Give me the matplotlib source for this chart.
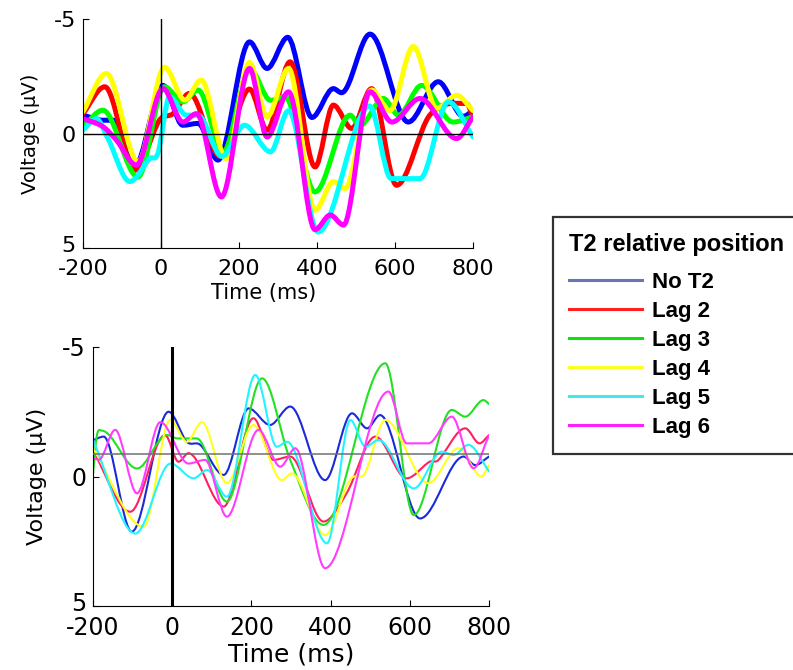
import matplotlib
matplotlib.use('Agg')
import matplotlib.pyplot as plt
import matplotlib.transforms as mtransforms
from matplotlib.path import Path
from matplotlib.patches import PathPatch
from matplotlib.lines import Line2D
import numpy as np

plt.rcParams['font.family'] = ['DejaVu Sans']
plt.rcParams['axes.unicode_minus'] = False

labels = ['No T2', 'Lag 2', 'Lag 3', 'Lag 4', 'Lag 5', 'Lag 6']
xticks = [-200, 0, 200, 400, 600, 800]
yticks = [-5, 0, 5]

# ---- upper panel (ms / uV) ----
top_blue_t = [-200, -149, -123, -68, 5, 56, 95, 146, 227, 272, 325, 387, 442, 463, 536, 634, 711, 775, 800]
top_blue_v = [-0.8, -0.58, -0.58, 1.45, -2.1, -0.36, -0.44, 1.16, -4.0, -2.84, -4.2, -0.7, -1.96, -1.78, -4.34, -0.5, -2.26, -0.75, -1.0]

top_red_t = [-200, -144, -67, -4, 31, 73, 152, 227, 272, 331, 395, 442, 489, 540, 604, 690, 783, 800]
top_red_v = [-0.87, -2.04, 1.6, -0.58, -0.87, -1.75, 1.0, -1.94, -0.15, -3.13, 1.46, -1.24, -0.22, -1.96, 2.26, -0.82, -1.31, -0.73]

top_green_t = [-200, -149, -59, 9, 56, 95, 160, 227, 281, 318, 395, 485, 510, 570, 609, 668, 749, 800]
top_green_v = [-0.3, -1.02, 1.9, -2.04, -1.38, -1.9, 0.8, -2.84, -1.45, -1.6, 2.55, -0.8, -0.35, -1.53, -0.8, -2.1, -0.5, -0.73]

top_yellow_t = [-200, -140, -59, 9, 61, 103, 167, 227, 272, 327, 395, 442, 472, 540, 587, 647, 707, 758, 800]
top_yellow_v = [-0.95, -2.62, 1.24, -2.9, -1.46, -2.33, 1.1, -3.1, -0.73, -2.84, 3.35, 2.1, 2.4, -1.9, -1.0, -3.8, -1.1, -1.67, -1.0]

top_cyan_t = [-200, -166, -136, -80, -29, -8, 22, 65, 95, 156, 214, 281, 327, 403, 535, 590, 664, 737, 800]
top_cyan_v = [-0.15, -0.65, 0.22, 2.1, 1.09, 0.87, -1.6, -0.8, -0.8, 1.0, -0.36, 0.8, -1.0, 4.3, -1.2, 1.97, 1.97, -1.38, 0.15]

top_magenta_t = [-200, -149, -114, -63, 5, 56, 91, 155, 227, 272, 327, 395, 434, 468, 536, 592, 664, 758, 800]
top_magenta_v = [-0.65, -0.3, 0.3, 1.38, -1.96, -0.5, -0.87, 2.77, -2.84, 0.15, -1.82, 4.2, 3.56, 4.0, -1.82, -0.5, -1.53, 0.22, -0.73]

# ---- lower panel ----
bot_blue_t = [-200, -173, -102, -9, 37, 71, 130, 193, 247, 298, 386, 454, 492, 525, 626, 736, 765, 800]
bot_blue_v = [-1.4, -1.54, 2.13, -2.5, -1.34, -1.22, -0.06, -2.63, -1.99, -2.7, 0.14, -2.44, -1.86, -2.37, 1.62, -0.77, -0.44, -0.77]

bot_red_t = [-200, -106, -18, 16, 41, 130, 205, 256, 298, 382, 440, 513, 592, 650, 671, 740, 776, 800]
bot_red_v = [-1.0, 1.36, -1.6, -0.57, -0.9, 1.16, -2.25, -0.64, -0.77, 1.74, 0.66, -1.54, 0.07, -0.57, -0.62, -1.86, -1.28, -1.6]

bot_green_t = [-200, -190, -178, -89, -13, 13, 62, 138, 227, 298, 382, 538, 610, 706, 740, 786, 800]
bot_green_v = [-0.1, -1.6, -1.77, -0.31, -1.6, -1.47, -1.47, 0.97, -3.79, -0.64, 1.87, -4.37, 1.49, -2.57, -2.31, -2.95, -2.8]

bot_yellow_t = [-200, -72, -5, 37, 75, 138, 205, 277, 302, 386, 460, 478, 538, 647, 723, 781, 800]
bot_yellow_v = [-1.09, 1.94, -2.18, -1.34, -2.1, 0.26, -1.99, 0.14, -0.12, 2.26, 0.0, 0.0, -2.18, 0.26, -1.09, 0.0, -0.44]

bot_cyan_t = [-200, -93, -4, 54, 88, 138, 210, 264, 290, 391, 450, 488, 521, 610, 681, 711, 748, 800]
bot_cyan_v = [-1.41, 2.2, -0.5, 0.07, -0.25, 0.78, -3.92, -1.15, -1.34, 2.58, -2.18, -1.15, -1.41, 0.46, -0.96, -0.83, -1.22, -0.2]

bot_magenta_t = [-200, -185, -144, -89, -30, 41, 83, 138, 218, 273, 311, 386, 546, 592, 647, 706, 761, 800]
bot_magenta_v = [-0.7, -0.65, -1.8, 0.65, -2.1, -0.5, -0.64, 1.55, -1.8, -0.38, -1.09, 3.54, -3.28, -1.28, -1.28, -2.31, -0.32, -1.6]

top_colors = ['#0000ff', '#ff0000', '#00ff00', '#ffff00', '#00ffff', '#ff00ff']
bot_colors = ['#1a2ad8', '#ff2060', '#22e022', '#ffff22', '#22f4ff', '#ff3cff']
leg_colors = ['#6a74b8', '#ff2020', '#10e010', '#ffff20', '#40e8f0', '#ff20ff']


def smooth_path(t, v):
    # cubic Bezier through the read points, flat at local peaks
    t = np.asarray(t, float)
    v = np.asarray(v, float)
    n = len(t)
    m = np.zeros(n)
    for i in range(n):
        if i == 0:
            m[i] = (v[1] - v[0]) / (t[1] - t[0])
        elif i == n - 1:
            m[i] = (v[-1] - v[-2]) / (t[-1] - t[-2])
        else:
            d0 = (v[i] - v[i-1]) / (t[i] - t[i-1])
            d1 = (v[i+1] - v[i]) / (t[i+1] - t[i])
            if d0 * d1 <= 0:
                m[i] = 0
            else:
                m[i] = (v[i+1] - v[i-1]) / (t[i+1] - t[i-1])
    verts = [(t[0], v[0])]
    codes = [Path.MOVETO]
    for i in range(n - 1):
        h = t[i+1] - t[i]
        verts += [(t[i] + h/3, v[i] + m[i]*h/3),
                  (t[i+1] - h/3, v[i+1] - m[i+1]*h/3),
                  (t[i+1], v[i+1])]
        codes += [Path.CURVE4] * 3
    return Path(verts, codes)


def style_axes(ax, tick_size, xpad):
    ax.set_xlim(-200, 800)
    ax.set_ylim(5, -5)
    ax.set_xticks(xticks)
    ax.set_yticks(yticks)
    ax.spines['top'].set_visible(False)
    ax.spines['right'].set_visible(False)
    ax.tick_params(direction='in', length=4, labelsize=tick_size, pad=5)
    ax.tick_params(axis='x', pad=xpad)
    # lift the bottom "5" a little so it clears the "-200" below it
    lbl = ax.yaxis.get_major_ticks()[-1].label1
    lbl.set_transform(lbl.get_transform() +
                      mtransforms.ScaledTranslation(0, 3/72, fig.dpi_scale_trans))


fig = plt.figure(figsize=(7.93, 6.70), dpi=100)

ax1 = fig.add_axes([83/793, 1-248/670, 390/793, 229/670])
style_axes(ax1, 16, 8)
top_series = [(top_blue_t, top_blue_v), (top_red_t, top_red_v), (top_green_t, top_green_v),
              (top_yellow_t, top_yellow_v), (top_cyan_t, top_cyan_v), (top_magenta_t, top_magenta_v)]
for (t, v), c in zip(top_series, top_colors):
    ax1.add_patch(PathPatch(smooth_path(t, v), facecolor='none', edgecolor=c, lw=3.6,
                            capstyle='round', joinstyle='round', zorder=2))
ax1.axhline(0, color='black', lw=1, zorder=3)
ax1.axvline(0, color='black', lw=1, zorder=3)
ax1.set_xlabel('Time (ms)', fontsize=15)
ax1.set_ylabel('Voltage (\u03bcV)', fontsize=14)
ax1.xaxis.set_label_coords(0.464, -0.155)
ax1.yaxis.set_label_coords(-0.11, 0.5)

ax2 = fig.add_axes([93/793, 1-606/670, 396/793, 259/670])
style_axes(ax2, 17, 7)
bot_series = [(bot_blue_t, bot_blue_v), (bot_red_t, bot_red_v), (bot_green_t, bot_green_v),
              (bot_yellow_t, bot_yellow_v), (bot_cyan_t, bot_cyan_v), (bot_magenta_t, bot_magenta_v)]
for (t, v), c in zip(bot_series, bot_colors):
    ax2.add_patch(PathPatch(smooth_path(t, v), facecolor='none', edgecolor=c, lw=1.5,
                            capstyle='round', joinstyle='round', zorder=2))
ax2.axhline(-0.85, color='#707070', lw=1.1, zorder=3)
ax2.axvline(0, color='black', lw=2.2, zorder=3)
ax2.set_xlabel('Time (ms)', fontsize=18)
ax2.set_ylabel('Voltage (\u03bcV)', fontsize=16)
ax2.xaxis.set_label_coords(0.5, -0.14)
ax2.yaxis.set_label_coords(-0.116, 0.5)

handles = [Line2D([], [], color=c, lw=2.2) for c in leg_colors]
leg = fig.legend(handles, labels, title='T2 relative position', loc='upper left',
                 bbox_to_anchor=(553/793, 1-217/670), borderaxespad=0,
                 frameon=True, fancybox=False, edgecolor='black',
                 handlelength=3.3, handletextpad=0.45, labelspacing=0.36, borderpad=0.7,
                 alignment='left',
                 prop={'family': 'Liberation Sans', 'weight': 'bold', 'size': 16},
                 title_fontproperties={'family': 'Liberation Sans', 'weight': 'bold', 'size': 17})
leg.get_frame().set_linewidth(1.6)
leg._legend_box.sep = 12

fig.savefig('out.png', dpi=100)
